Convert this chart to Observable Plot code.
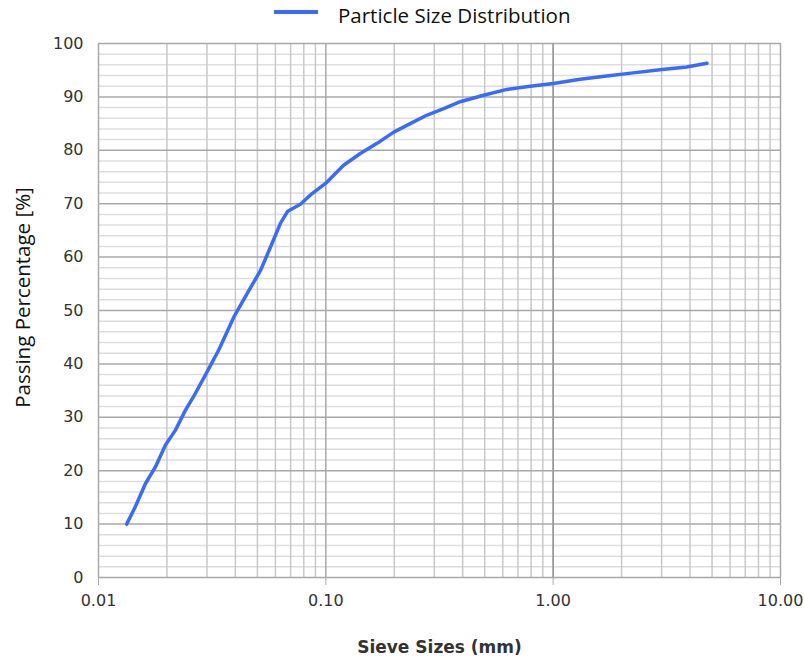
<!DOCTYPE html>
<html>
<head>
<meta charset="utf-8">
<script src="https://cdn.jsdelivr.net/npm/d3@7"></script>
<script src="https://cdn.jsdelivr.net/npm/@observablehq/plot@0.6"></script>
<style>
  body { margin: 0; background: #fff; }
  #legend { position: relative; width: 804px; height: 34px; font-family: "Open Sans", sans-serif; font-size: 20.5px; color: #111; }
  #legend .sw { position: absolute; left: 274px; top: 10px; width: 44px; height: 4px; background: #3a6bff; }
  #legend .lab { position: absolute; left: 338px; top: 2px; line-height: 26px; white-space: nowrap; }
  #chart svg { display: block; }
</style>
</head>
<body>
<div id="legend"><span class="sw"></span><span class="lab">Particle Size Distribution</span></div>
<div id="chart"></div>
<script>
// Sieve sizes (mm) and passing percentage (%)
const sizes = [0.0133, 0.0145, 0.0161, 0.0178, 0.0197, 0.0218, 0.0241, 0.0267, 0.0295, 0.0338,
               0.0394, 0.0451, 0.0516, 0.0571, 0.0631, 0.0680, 0.0773, 0.0870, 0.101, 0.1197,
               0.1418, 0.168, 0.199, 0.235, 0.279, 0.330, 0.390, 0.494, 0.626, 0.793,
               1.003, 1.314, 1.721, 2.25, 2.95, 3.86, 4.75];
const passing = [10.0, 13.2, 17.6, 20.7, 24.8, 27.6, 31.3, 34.5, 37.9, 42.6,
                 48.8, 53.2, 57.5, 61.9, 66.3, 68.6, 69.9, 71.9, 74.0, 77.2,
                 79.4, 81.3, 83.4, 85.0, 86.6, 87.8, 89.1, 90.3, 91.4, 92.0,
                 92.5, 93.3, 93.9, 94.5, 95.1, 95.6, 96.3];

const xTicks = [0.01, 0.1, 1, 10];
const xTickLabels = ["0.01", "0.10", "1.00", "10.00"];
const yTicks = [0, 10, 20, 30, 40, 50, 60, 70, 80, 90, 100];
const xMinor = [2, 3, 4, 5, 6, 7, 8, 9];
const yMinorStep = [2, 4, 6, 8];

const seriesName = "Particle Size Distribution";
const xTitle = "Sieve Sizes (mm)";
const yTitle = "Passing Percentage [%]";

const data = sizes.map((s, i) => ({size: s, pass: passing[i]}));
const minorX = xTicks.slice(0, -1).flatMap(d => xMinor.map(m => d * m));
const minorY = yTicks.slice(0, -1).flatMap(d => yMinorStep.map(m => d + m));

const chart = Plot.plot({
  width: 804,
  height: 631,
  marginLeft: 98,
  marginRight: 24,
  marginTop: 9,
  marginBottom: 88,
  style: {fontFamily: "DejaVu Sans", background: "#fff"},
  x: {type: "log", domain: [0.01, 10], axis: null},
  y: {domain: [0, 100], axis: null},
  marks: [
    Plot.ruleY(minorY, {stroke: "#dedede", strokeWidth: 1.5}),
    Plot.ruleX(minorX, {stroke: "#c8c8c8", strokeWidth: 1.5}),
    Plot.ruleY(yTicks, {stroke: "#a8a8a8", strokeWidth: 1.5}),
    Plot.ruleX(xTicks, {stroke: "#a8a8a8", strokeWidth: 1.5}),
    Plot.ruleX([1], {stroke: "#999", strokeWidth: 1.5}),
    Plot.axisX(xTicks, {
      tickSize: 8, tickPadding: 9, stroke: "#aaa",
      tickFormat: d => xTickLabels[xTicks.indexOf(d)],
      fontSize: 16, fill: "#333", label: null
    }),
    Plot.axisY(yTicks, {tickSize: 0, tickPadding: 15, fontSize: 16, fill: "#333", label: null}),
    Plot.line(data, {x: "size", y: "pass", stroke: "#3a6bff", strokeWidth: 3.5}),
    Plot.text([xTitle], {frameAnchor: "bottom", dy: 75, fontSize: 17, fontWeight: "bold", fill: "#333"}),
    Plot.text([yTitle], {frameAnchor: "left", textAnchor: "middle", rotate: -90, dx: -75, dy: -13, fontSize: 20.5, fontFamily: "Open Sans", fill: "#111"})
  ]
});
document.getElementById("chart").appendChild(chart);
</script>
</body>
</html>
